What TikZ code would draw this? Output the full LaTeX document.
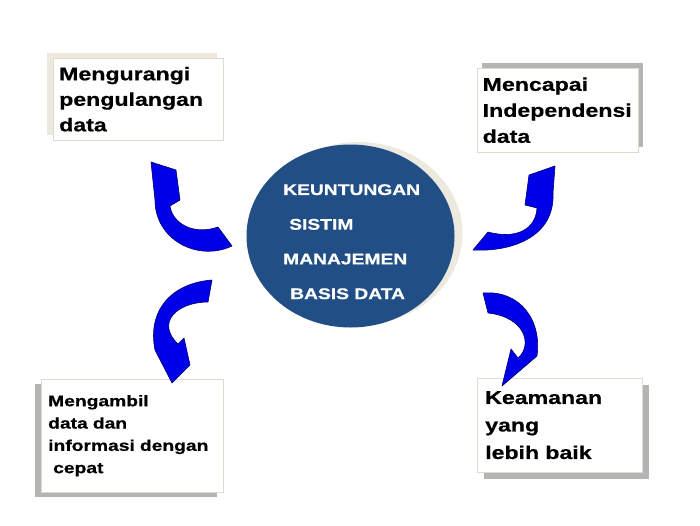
\documentclass[tikz,border=0pt]{standalone}
\usepackage{fontspec}
\newfontfamily\arialfont{Liberation Sans}[FakeStretch=1.25, FakeBold=0.6]
\usetikzlibrary{shapes.geometric,shadows}

\definecolor{dbblue}{RGB}{33,78,133}
\definecolor{arrowblue}{RGB}{0,0,232}
\definecolor{arrowline}{RGB}{0,0,110}
\definecolor{cream}{RGB}{236,233,222}
\definecolor{shade}{RGB}{180,180,180}
\definecolor{rim}{RGB}{222,220,208}

\begin{document}
\begin{tikzpicture}[x=1pt, y=-1pt,
  box/.style={draw=rim, fill=white, anchor=north west, align=left, inner ysep=0pt,
    font=\arialfont\bfseries\fontsize{18.5}{25.5}\selectfont},
  lift/.style n args={3}{drop shadow={shadow xshift=#1, shadow yshift=#2, fill=#3, opacity=1}},
  curlarrow/.style={fill=arrowblue, draw=arrowline, line width=0.6pt, line join=round},
]
\useasboundingbox (0,0) rectangle (700,525);

% === Benefit boxes ===
\node[box, inner xsep=6pt, text width=158pt, minimum height=82pt, lift={-6pt}{5.5pt}{cream}]
  (redundancy) at (53,58) {Mengurangi\\pengulangan\\data};
\node[box, inner xsep=5.5pt, text width=150pt, minimum height=84pt, lift={5pt}{5pt}{shade},
  font=\arialfont\bfseries\fontsize{18.5}{26}\selectfont]
  (independence) at (477,68) {Mencapai\\Independensi\\data};
\node[box, inner xsep=7pt, text width=168pt, minimum height=113pt, lift={-6pt}{-5pt}{shade},
  font=\arialfont\bfseries\fontsize{15.4}{22.3}\selectfont]
  (retrieval) at (41,379) {Mengambil\\data dan\\informasi dengan\\\hspace*{5pt}cepat};
\node[box, inner xsep=8pt, text width=149pt, minimum height=94pt, lift={6.5pt}{-6.5pt}{shade},
  font=\arialfont\bfseries\fontsize{18.5}{27.5}\selectfont]
  (security) at (477,378) {Keamanan\\yang\\lebih baik};

% === Central ellipse ===
\node[ellipse, fill=dbblue, minimum width=208pt, minimum height=183pt, inner sep=0pt,
  lift={8pt}{2.5pt}{cream}] (core) at (350.5,236) {};
\node[anchor=north west, inner sep=0pt, align=left, text=white,
  font=\arialfont\bfseries\fontsize{15.4}{34.7}\selectfont]
  (title) at (283,184) {KEUNTUNGAN\\\hspace*{6pt}SISTIM\\MANAJEMEN\\\hspace*{7pt}BASIS DATA};

% === Curved block arrows ===
\draw[curlarrow] (218,227) -- (232,246) .. controls (198,262) and (155,240) .. (155,200)
  -- (151,162) -- (176,170) -- (180,200) -- (170,206)
  .. controls (172,222) and (192,236) .. (218,227) -- cycle;
\draw[curlarrow] (488,232) -- (473,250) .. controls (510,252) and (555,238) .. (553,193)
  -- (555,166) -- (529,175) -- (525,205) -- (537,208)
  .. controls (536,228) and (518,240) .. (488,232) -- cycle;
\draw[curlarrow] (212,280) -- (208,302) .. controls (178,302) and (155,322) .. (178,344)
  -- (184,338) -- (190,365) -- (172,383) -- (155,350)
  .. controls (147,310) and (172,283) .. (212,280) -- cycle;
\draw[curlarrow] (483,293) .. controls (520,290) and (542,320) .. (537,356)
  -- (502,386) -- (511,349) -- (518,358)
  .. controls (533,345) and (525,317) .. (488,313) -- cycle;

\end{tikzpicture}
\end{document}
